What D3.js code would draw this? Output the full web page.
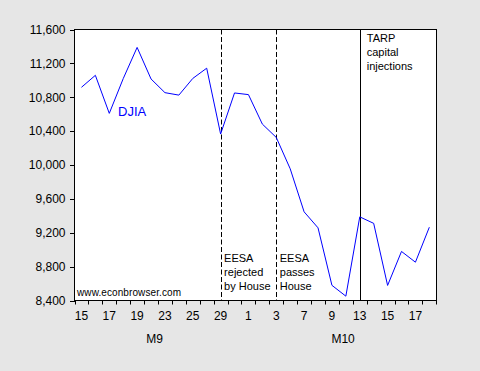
<!DOCTYPE html>
<html><head><meta charset="utf-8">
<script src="https://cdn.jsdelivr.net/npm/d3@7"></script>
<style>
html,body{margin:0;padding:0;background:#e6e6e6;}
svg{display:block;font-family:"Liberation Sans",Arial,sans-serif;}
</style></head>
<body>
<svg id="c" width="480" height="371"></svg>
<script>
// Trading days, Sep 15 - Oct 20 (2008)
const days = ["9/15","9/16","9/17","9/18","9/19","9/22","9/23","9/24","9/25","9/26","9/29","9/30",
              "10/1","10/2","10/3","10/6","10/7","10/8","10/9","10/10","10/13","10/14","10/15","10/16","10/17","10/20"];
const djia = [10917.51,11059.02,10609.66,11019.69,11388.44,11015.69,10854.17,10825.17,11022.06,11143.13,10365.45,10850.66,
              10831.07,10482.85,10325.38,9955.50,9447.11,9258.10,8579.19,8451.19,9387.61,9310.99,8577.91,8979.26,8852.22,9265.43];
const xTickDays = ["9/15","9/17","9/19","9/23","9/25","9/29","10/1","10/3","10/7","10/9","10/13","10/15","10/17"];
const yTicks = [8400,8800,9200,9600,10000,10400,10800,11200,11600];
const months = [{label:"M9", pos:5.75},{label:"M10", pos:19.3}];
const events = [
  {day:"9/29", dash:true, lines:["EESA","rejected","by House"], where:"bottom"},
  {day:"10/3", dash:true, lines:["EESA","passes","House"], where:"bottom"},
  {day:"10/13", dash:false, lines:["TARP","capital","injections"], where:"top"}
];
const seriesLabel = "DJIA";
const credit = "www.econbrowser.com";

const svg = d3.select("#c");
const L = 74.5, R = 436.5, T = 29.5, B = 300.5;

const x = d3.scaleBand().domain(days).range([74.5, 436.3]).padding(0);
const xc = d => x(d) + x.bandwidth()/2;
const y = d3.scaleLinear().domain([8400, 11600]).range([B, T]);

svg.append("rect").attr("x",L).attr("y",T).attr("width",R-L).attr("height",B-T).attr("fill","#fff");

// event lines
events.forEach(e => {
  const ex = Math.round(xc(e.day)) + 0.5;
  svg.append("line").attr("x1",ex).attr("x2",ex).attr("y1",T).attr("y2",B)
    .attr("stroke","#000").attr("stroke-width",1)
    .attr("stroke-dasharray", e.dash ? "5,2.5" : null);
  const baseY = e.where === "top" ? 42 : 262;
  e.lines.forEach((t,i) => {
    svg.append("text").attr("x", xc(e.day) + (e.where==="top"?7:3.5)).attr("y", baseY + i*14.2)
      .attr("font-size","11px").attr("fill","#000").text(t);
  });
});

// series line
svg.append("path").datum(djia)
  .attr("fill","none").attr("stroke","#0000ff").attr("stroke-width",1)
  .attr("d", d3.line().x((d,i)=>xc(days[i])).y(d=>y(d)));

svg.append("text").attr("x",118).attr("y",116).attr("font-size","13px").attr("fill","#0000ff").text(seriesLabel);
svg.append("text").attr("x",77).attr("y",296).attr("font-size","10px").attr("fill","#000")
  .attr("textLength",104).text(credit);

// frame
svg.append("rect").attr("x",L).attr("y",T).attr("width",R-L).attr("height",B-T)
  .attr("fill","none").attr("stroke","#000").attr("stroke-width",1);

// y axis
const yAxis = d3.axisLeft(y).tickValues(yTicks).tickSize(5).tickPadding(4).tickFormat(d3.format(","));
const gy = svg.append("g").attr("transform",`translate(${L},0)`).call(yAxis);
gy.select(".domain").remove();
gy.selectAll("text").attr("font-size","12px").attr("font-family","Liberation Sans, Arial, sans-serif").attr("fill","#000");
gy.selectAll("line").attr("stroke","#000").attr("shape-rendering","crispEdges");

// x axis: ticks at band boundaries, labels at band centers
const boundaries = days.map(d => x(d)).concat([x(days[days.length-1]) + x.bandwidth()]);
const gx = svg.append("g");
gx.selectAll("line.t").data(boundaries).join("line")
  .attr("x1",d=>Math.round(d)+0.5).attr("x2",d=>Math.round(d)+0.5).attr("y1",B).attr("y2",B+4).attr("stroke","#000");
gx.selectAll("text.l").data(xTickDays).join("text")
  .attr("x",d=>xc(d)).attr("y",320).attr("text-anchor","middle").attr("font-size","12px")
  .text(d=>d.split("/")[1]);
gx.selectAll("text.m").data(months).join("text")
  .attr("x",d=>x(days[0]) + d.pos*x.bandwidth()).attr("y",343).attr("text-anchor","middle").attr("font-size","12px")
  .text(d=>d.label);
</script>
</body></html>
